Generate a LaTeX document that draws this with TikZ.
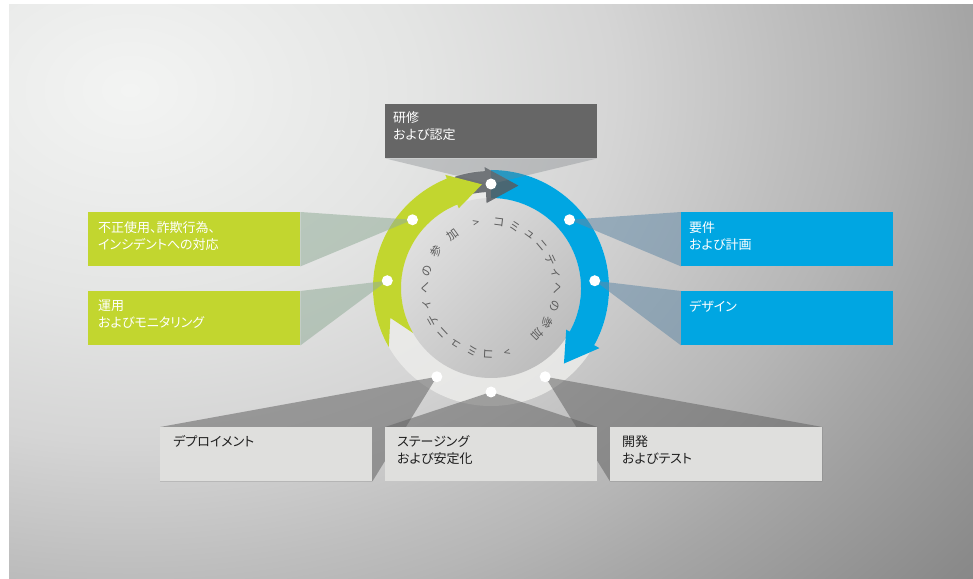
\documentclass[tikz,border=0pt]{standalone}
\usepackage{fontspec}
\newfontfamily\jp[RawFeature=+palt]{Noto Sans CJK JP}
\usetikzlibrary{calc}
\definecolor{bgA}{HTML}{F3F4F3}
\definecolor{bgB}{HTML}{E4E5E4}
\definecolor{bgC}{HTML}{D5D5D5}
\definecolor{bgD}{HTML}{BEBEBE}
\definecolor{bgE}{HTML}{B6B6B6}
\definecolor{bgF}{HTML}{A6A6A6}
\definecolor{bgG}{HTML}{8A8A8A}
\definecolor{bgH}{HTML}{868686}
\definecolor{cgreen}{HTML}{C2D62F}
\definecolor{cblue}{HTML}{00A6E2}
\definecolor{cdark}{HTML}{666666}
\definecolor{clight}{HTML}{DFDFDD}
\definecolor{cgrayarrow}{HTML}{585C60}
\definecolor{ringlight}{HTML}{ECECEA}
\definecolor{discA}{HTML}{DFDFDF}
\definecolor{discB}{HTML}{BDBDBD}
\definecolor{circtext}{HTML}{5C5C5C}
\definecolor{beamtop}{HTML}{7A7F84}
\definecolor{beamgreen}{HTML}{93AD99}
\definecolor{beamblue}{HTML}{648AA6}
\definecolor{beamgray}{HTML}{636363}
\definecolor{darktext}{HTML}{1E1E1E}
\pgfdeclarelayer{back}
\pgfdeclarelayer{mid}
\pgfsetlayers{back,mid,main}
\pgfdeclareradialshading{bgshade}{\pgfpoint{0bp}{0bp}}{color(0bp)=(bgA); color(6.5bp)=(bgB); color(11bp)=(bgC); color(15bp)=(bgD); color(16.5bp)=(bgE); color(19bp)=(bgF); color(24bp)=(bgG); color(25bp)=(bgH); color(50bp)=(bgH)}
\begin{document}
\begin{tikzpicture}[x=1pt,y=1pt,
  box/.style={rectangle, inner sep=0pt, minimum width=212pt, minimum height=54pt, anchor=north west},
  boxtxt/.style={anchor=north west, inner sep=0pt, align=left, font=\jp\fontsize{13}{17}\selectfont},
  dot/.style={circle, fill=white, inner sep=0pt, minimum size=11pt},
  ctext/.style={inner sep=0pt, font=\jp\fontsize{11.5}{11.5}\selectfont, text=circtext},
  beam/.style={opacity=.55}]
\useasboundingbox (0,0) rectangle (973,578);

% boxes
\node[box, fill=cdark]  (bT)  at (385,474) {};
\node[box, fill=cgreen] (bG1) at (88,366) {};
\node[box, fill=cgreen] (bG2) at (88,287) {};
\node[box, fill=cblue]  (bB1) at (681,366) {};
\node[box, fill=cblue]  (bB2) at (681,287) {};
\node[box, fill=clight] (bD)  at (160,151) {};
\node[box, fill=clight] (bS)  at (385,151) {};
\node[box, fill=clight] (bK)  at (610,151) {};

% box texts
\node[boxtxt, text=white] (tT)  at ($(bT.north west)+(8,-7)$) {研修\\および認定};
\node[boxtxt, text=white] (tG1) at ($(bG1.north west)+(10,-9)$) {不正使用、詐欺行為、\\インシデントへの対応};
\node[boxtxt, text=white] (tG2) at ($(bG2.north west)+(10,-9)$) {運用\\およびモニタリング};
\node[boxtxt, text=white] (tB1) at ($(bB1.north west)+(8,-9)$) {要件\\および計画};
\node[boxtxt, text=white] (tB2) at ($(bB2.north west)+(8,-9)$) {デザイン};
\node[boxtxt, text=darktext] (tD) at ($(bD.north west)+(13,-8)$) {デプロイメント};
\node[boxtxt, text=darktext] (tS) at ($(bS.north west)+(12,-8)$) {ステージング\\および安定化};
\node[boxtxt, text=darktext] (tK) at ($(bK.north west)+(12,-8)$) {開発\\およびテスト};

% dots
\begin{scope}[shift={(491,290)}]
\foreach \n/\a in {d90/90, d41/41, d4/4, dmA/-58.6, dmB/-90, dmC/-121.4, d176/176, d139/139}
  \node[dot] (\n) at (\a:104) {};
\end{scope}

% background, ring, arrows, circular text
\begin{pgfonlayer}{back}
  \begin{scope}
    \clip (9,0) rectangle (973,573);
    \shade[shading=bgshade] (130,488) ellipse [x radius=1100, y radius=800];
  \end{scope}
  \begin{scope}[shift={(491,290)}]
    \fill[ringlight, opacity=.85] (0,0) circle[radius=118];
    \shade[top color=discA, bottom color=discB, shading angle=45] (0,0) circle[radius=90];
    % blue arrow
    \fill[cblue] (90:118) arc[start angle=90, end angle=-29, radius=118]
      -- (-29:124) -- (-46:105) -- (-29:86) -- (-29:90)
      arc[start angle=-29, end angle=90, radius=90] -- cycle;
    % gray arrow
    \fill[cgrayarrow, opacity=.85] (108:117) arc[start angle=108, end angle=93, radius=117]
      -- (93:121) -- (75:106) -- (93:85) -- (93:96)
      arc[start angle=93, end angle=108, radius=96] -- cycle;
    % green arrow
    \fill[cgreen] (210:118) -- (196.5:105) -- (210:90)
      arc[start angle=210, end angle=112, radius=90]
      -- (112:86) -- (95:104) -- (112:122) -- (112:118)
      arc[start angle=112, end angle=210, radius=118] -- cycle;
    % circular text
    \foreach \c/\a [count=\i] in {>/103, コ/83, ミ/69, ュ/54, ニ/40, テ/25, ィ/13, へ/0, の/-16, 参/-31.5, 加/-45,
                                  >/-76, コ/-92.6, ミ/-106.5, ュ/-122, ニ/-137, テ/-151, ィ/-165, へ/-180, の/-195, 参/-214, 加/-234}
      \node[ctext, rotate=\a-90] (c\i) at (\a:66) {\c};
  \end{scope}
\end{pgfonlayer}

% beams
\begin{pgfonlayer}{mid}
  \fill[beamtop, opacity=.35] (d90.center) -- (bT.south west) -- (bT.south east) -- cycle;
  \fill[beamgreen, beam] (d139.center) -- (bG1.north east) -- (bG1.south east) -- cycle;
  \fill[beamgreen, beam] (d176.center) -- (bG2.north east) -- (bG2.south east) -- cycle;
  \fill[beamblue, beam] (d41.center) -- (bB1.north west) -- (bB1.south west) -- cycle;
  \fill[beamblue, beam] (d4.center) -- (bB2.north west) -- (bB2.south west) -- cycle;
  \fill[beamgray, beam] (dmC.center) -- (bD.north west) -- (bD.south west) -- (bD.south east) -- cycle;
  \fill[beamgray, beam] (dmB.center) -- (bS.north west) -- (bS.north east) -- cycle;
  \fill[beamgray, beam] (dmA.center) -- (bK.south west) -- (bK.south east) -- (bK.north east) -- cycle;
\end{pgfonlayer}
\end{tikzpicture}
\end{document}
